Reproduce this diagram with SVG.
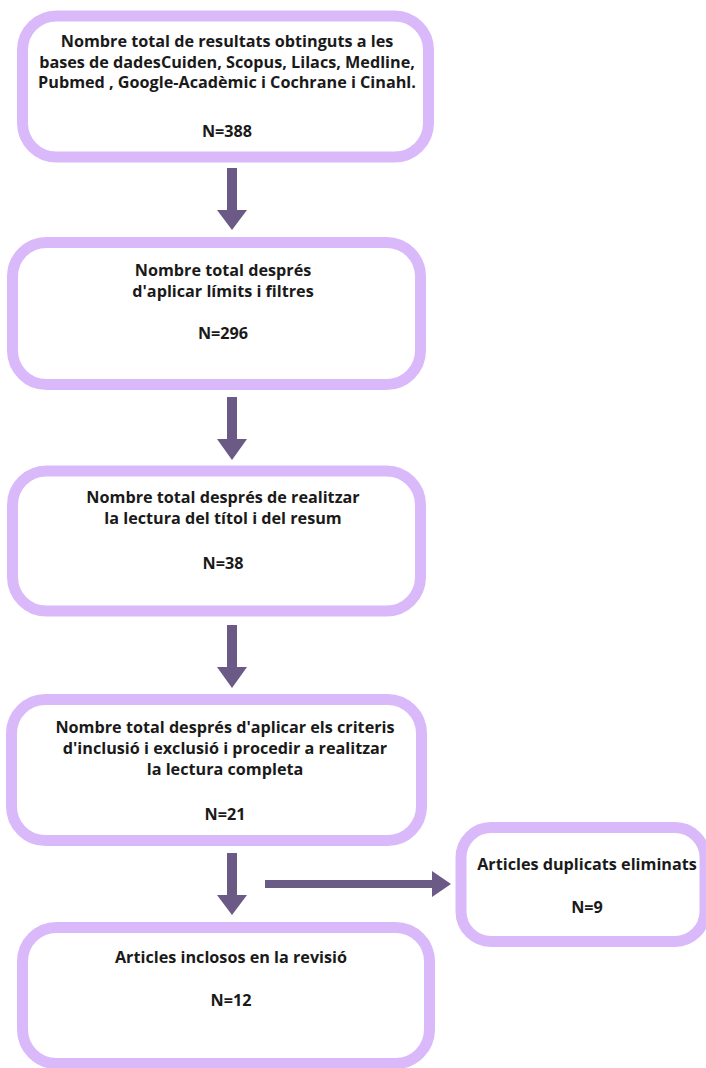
<svg xmlns="http://www.w3.org/2000/svg" width="706" height="1068" viewBox="0 0 706 1068">
<style>
.box{fill:#ffffff;stroke:#dab9fb;stroke-width:11}
.t{font-family:"Open Sans","Liberation Sans",sans-serif;font-weight:700;font-size:16.2px;fill:#1a1a1a;text-anchor:middle}
.arr{fill:#6b5986}
</style>
<rect width="706" height="1068" fill="#ffffff"/>
<g id="n1">
<rect class="box" x="22.5" y="16" width="406" height="141" rx="34"/>
<text class="t" x="227" y="47">Nombre total de resultats obtinguts a les</text>
<text class="t" x="227" y="67.5">bases de dadesCuiden, Scopus, Lilacs, Medline,</text>
<text class="t" x="227" y="88"> Pubmed , Google-Acadèmic i Cochrane i Cinahl.</text>
<text class="t" x="227" y="137">N=388</text>
</g>
<g id="n2">
<rect class="box" x="12.5" y="242.5" width="408" height="142" rx="34"/>
<text class="t" x="223" y="276">Nombre total després</text>
<text class="t" x="223" y="297">d'aplicar límits i filtres</text>
<text class="t" x="223" y="339">N=296</text>
</g>
<g id="n3">
<rect class="box" x="12.5" y="471" width="408" height="140" rx="34"/>
<text class="t" x="223" y="503">Nombre total després de realitzar</text>
<text class="t" x="223" y="524">la lectura del títol i del resum</text>
<text class="t" x="223" y="569">N=38</text>
</g>
<g id="n4">
<rect class="box" x="11.5" y="699.5" width="410" height="141" rx="34"/>
<text class="t" x="225" y="733">Nombre total després d'aplicar els criteris</text>
<text class="t" x="225" y="754">d'inclusió i exclusió i procedir a realitzar</text>
<text class="t" x="225" y="775">la lectura completa</text>
<text class="t" x="225" y="820">N=21</text>
</g>
<g id="n5">
<rect class="box" x="22.5" y="927.5" width="407" height="136" rx="34"/>
<text class="t" x="231" y="963">Articles inclosos en la revisió</text>
<text class="t" x="231" y="1006">N=12</text>
</g>
<g id="n6">
<rect class="box" x="461" y="827.5" width="244" height="114" rx="30"/>
<text class="t" x="587" y="870">Articles duplicats eliminats</text>
<text class="t" x="587" y="913">N=9</text>
</g>
<g id="connectors">
<path class="arr" d="M227,168 H237 V210 H247 L232,230 L217,210 H227 Z"/>
<path class="arr" d="M227,397 H237 V439 H247 L232,460 L217,439 H227 Z"/>
<path class="arr" d="M227,625 H237 V667 H247 L232,688 L217,667 H227 Z"/>
<path class="arr" d="M227,853 H237 V895 H247 L232,915 L217,895 H227 Z"/>
<path class="arr" d="M265,880 H432 V871 L451,884 L432,897 V888 H265 Z"/>
</g>
</svg>
